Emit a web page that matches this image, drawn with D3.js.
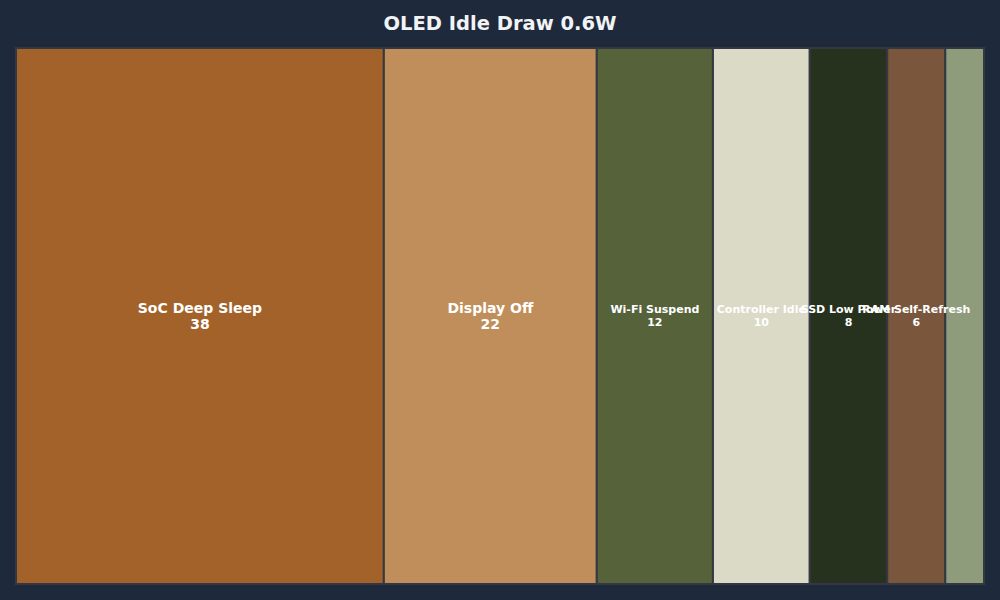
<!DOCTYPE html>
<html>
<head>
<meta charset="utf-8">
<script src="https://cdn.jsdelivr.net/npm/d3@7"></script>
<style>
  html, body { margin: 0; padding: 0; background: #1e293b; }
  svg { display: block; font-family: "DejaVu Sans", sans-serif; }
</style>
</head>
<body>
<div id="chart"></div>
<script>
  // values
  const names = ["SoC Deep Sleep", "Display Off", "Wi-Fi Suspend", "Controller Idle", "SSD Low Power", "RAM Self-Refresh", "Other"];
  const values = [38, 22, 12, 10, 8, 6, 4];
  const colors = ["#a3622a", "#c08e5a", "#55623a", "#dadac6", "#26321e", "#7a563d", "#8e9c7c"];
  const title = "OLED Idle Draw 0.6W";

  const width = 1000, height = 600;
  const margin = { top: 48, right: 16, bottom: 16, left: 16 };
  const innerW = width - margin.left - margin.right;
  const innerH = height - margin.top - margin.bottom;

  const svg = d3.select("#chart")
    .append("svg")
    .attr("width", width)
    .attr("height", height);

  svg.append("rect")
    .attr("width", width)
    .attr("height", height)
    .attr("fill", "#1e293b");

  svg.append("text")
    .attr("x", width / 2)
    .attr("y", 30)
    .attr("text-anchor", "middle")
    .attr("fill", "#f1f3f5")
    .attr("font-size", 19.5)
    .attr("font-weight", "bold")
    .text(title);

  const root = d3.hierarchy({
      children: names.map((n, i) => ({ name: n, value: values[i], color: colors[i] }))
    })
    .sum(d => d.value || 0);

  d3.treemap()
    .tile(d3.treemapDice)
    .size([innerW, innerH])
    .padding(0)(root);

  const g = svg.append("g")
    .attr("transform", `translate(${margin.left},${margin.top})`);

  g.append("g")
    .selectAll("rect")
    .data(root.leaves())
    .join("rect")
    .attr("x", d => d.x0)
    .attr("y", d => d.y0)
    .attr("width", d => d.x1 - d.x0)
    .attr("height", d => d.y1 - d.y0)
    .attr("fill", d => d.data.color)
    .attr("stroke", "#353842")
    .attr("stroke-width", 2);

  // labels on top of every cell, smaller on narrow cells, none on the narrowest
  const labels = g.append("g")
    .selectAll("text")
    .data(root.leaves().filter(d => d.x1 - d.x0 > 50))
    .join("text")
    .attr("text-anchor", "middle")
    .attr("fill", "#ffffff")
    .attr("font-weight", "bold")
    .attr("font-size", d => d.x1 - d.x0 > 150 ? 14 : 11);

  labels.append("tspan")
    .attr("x", d => (d.x0 + d.x1) / 2)
    .attr("y", d => (d.y0 + d.y1) / 2 - 3)
    .text(d => d.data.name);

  labels.append("tspan")
    .attr("x", d => (d.x0 + d.x1) / 2)
    .attr("y", d => (d.y0 + d.y1) / 2 + (d.x1 - d.x0 > 150 ? 13 : 10))
    .text(d => d.data.value);
</script>
</body>
</html>
